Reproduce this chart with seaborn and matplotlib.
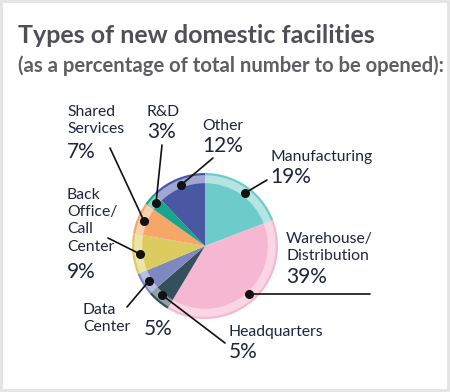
import matplotlib
matplotlib.use("Agg")
import matplotlib.pyplot as plt
import seaborn as sns
from matplotlib.patches import Rectangle

sns.set_theme(style="white")
plt.rcParams["font.family"] = ["Lato", "DejaVu Sans"]

categories = ["Manufacturing", "Warehouse/\nDistribution", "Headquarters", "Data\nCenter",
              "Back\nOffice/\nCall\nCenter", "Shared\nServices", "R&D", "Other"]
values = [19, 39, 5, 5, 9, 7, 3, 12]
pct_labels = ["19%", "39%", "5%", "5%", "9%", "7%", "3%", "12%"]
main_colors = ["#6DCBC9", "#F6B7D2", "#34505A", "#8088C2", "#DCCB5E", "#F7A66A", "#17A58C", "#4A58A3"]
light_colors = ["#B5E4E2", "#FAD6E5", "#8FA3A6", "#B8BEE1", "#EEE4A9", "#FBD0AF", "#8FD4C5", "#A0A7D3"]

fig = plt.figure(figsize=(4.5, 3.92), dpi=100)
ax = fig.add_axes([0, 0, 1, 1])

cx, cy = 205, 246
R = 73
ax.pie(values, colors=main_colors, radius=R, center=(cx, cy), startangle=-90,
       counterclock=True, wedgeprops=dict(linewidth=0))
ax.pie(values, colors=light_colors, radius=R - 2.2, center=(cx, cy), startangle=-90,
       counterclock=True, wedgeprops=dict(linewidth=0, width=8))
ax.set_xlim(0, 450)
ax.set_ylim(392, 0)
ax.set_aspect("equal")
ax.axis("off")

# frame
fig.patches.append(Rectangle((0.002, 0.004), 0.994, 0.993, transform=fig.transFigure,
                             fill=False, edgecolor="#E4E4E4", linewidth=2))

ax.text(18, 43, "Types of new domestic facilities", fontsize=18, color="#4F4F55",
        fontweight="bold", va="baseline", ha="left")
ax.text(18, 72, "(as a percentage of total number to be opened):", fontsize=14.6,
        color="#5E5E63", fontweight="bold", va="baseline", ha="left")

tc = "#1F2340"
# label name positions (left x, top y), percent positions (left x, top y)
name_pos = [(270, 150), (286, 232), (229, 325), (83, 303), (67, 188), (67, 105), (147, 105), (202, 119)]
pct_pos = [(270, 167), (286, 267), (229, 342), (144, 319), (67, 262), (67, 142), (147, 122), (202, 136)]
dots = [(245, 193), (249, 294), (162, 295), (149, 281), (140, 254), (144, 221), (156, 203), (181, 185)]
line_ends = [(267, 180), (370, 294), (225, 343), (127, 307), (108, 238), (110, 148), (162, 145), (213, 158)]

for cat, pct, npos, ppos, d, le in zip(categories, pct_labels, name_pos, pct_pos, dots, line_ends):
    ax.text(npos[0], npos[1], cat, fontsize=11.3, color=tc, va="top", ha="left",
            linespacing=1.29)
    ax.text(ppos[0], ppos[1], pct, fontsize=15, color=tc, va="top", ha="left",
            fontweight="normal")
    ax.plot([d[0], le[0]], [d[1], le[1]], color="#111111", linewidth=1.2)
    ax.plot(d[0], d[1], "o", color="#111111", markersize=5.5)

fig.savefig("out.png", dpi=100)
